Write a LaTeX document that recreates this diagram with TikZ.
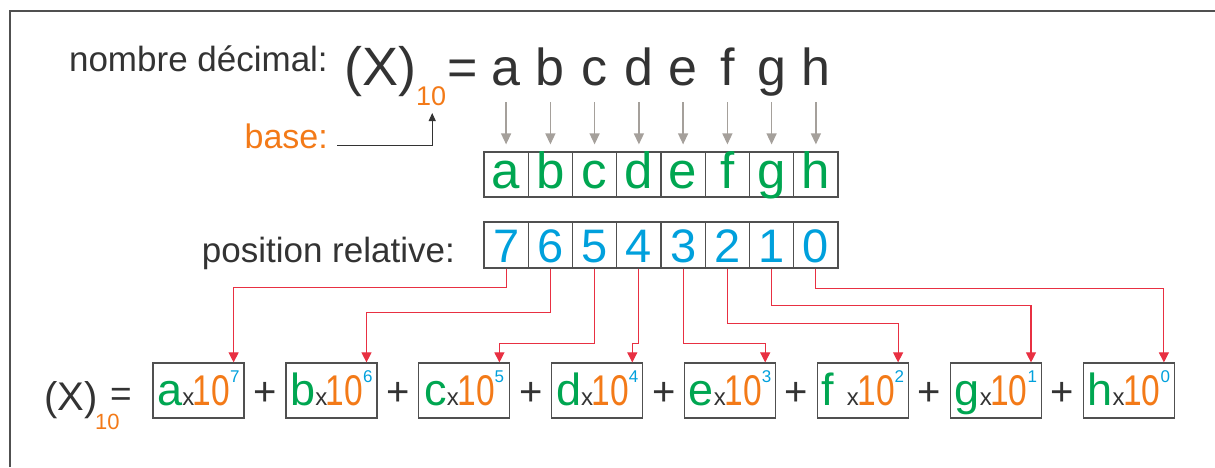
\documentclass[tikz,border=0pt]{standalone}
\usepackage{fontspec}
\setmainfont{Liberation Sans}
\usepackage{graphicx}
\usetikzlibrary{arrows.meta}
\definecolor{textgray}{RGB}{51,51,51}
\definecolor{boxgray}{RGB}{80,80,80}
\definecolor{arrowgray}{RGB}{165,160,155}
\definecolor{mygreen}{RGB}{0,166,81}
\definecolor{myorange}{RGB}{243,122,24}
\definecolor{myblue}{RGB}{0,160,220}
\definecolor{myred}{RGB}{232,48,66}
\newcommand{\fsz}[1]{\fontsize{#1pt}{#1pt}\selectfont}
\newcommand{\term}[2]{{\color{mygreen}\fsz{45}#1}{\fsz{24}x}\kern-1.5pt{\color{myorange}\fsz{43}\scalebox{0.78}[1]{10}}\raisebox{23pt}{\color{myblue}\fsz{17}#2}}
\tikzset{
  txt/.style={inner sep=0pt, text=textgray},
  lcell/.style={draw=boxgray, line width=1.2pt, inner sep=0pt, minimum width=44.25pt,
    text height=36pt, text depth=9pt, text=mygreen, font=\fsz{51}, anchor=base},
  pcell/.style={draw=boxgray, line width=1.2pt, inner sep=0pt, minimum width=44.25pt,
    text height=40pt, text depth=6pt, text=myblue, font=\fsz{47}, anchor=base},
  termbox/.style={draw=boxgray, line width=1.2pt, inner sep=0pt, minimum width=91pt,
    text height=42pt, text depth=13pt, anchor=base, text=textgray},
  plus/.style={txt, anchor=base, font=\fsz{40}},
  grayarrow/.style={draw=arrowgray, line width=1.3pt, -{Triangle[length=11pt,width=10pt]}},
  redarrow/.style={draw=myred, line width=1.1pt, -{Triangle[length=10pt,width=10pt]}},
  basearrow/.style={draw=textgray, line width=1pt, -{Triangle[length=8pt,width=7pt]}}
}
\begin{document}
\begin{tikzpicture}[x=1pt, y=-1pt]
\useasboundingbox (0,0) rectangle (1215,467);
%% frame
  \draw[draw=boxgray, line width=1.5pt] (10,467) -- (10,11) -- (1215,11);
%% first line
  \node[txt, anchor=base east, font=\fsz{35}] (nombre) at (328,71) {nombre décimal:};
  \node[txt, anchor=base west, font=\fsz{54}] (xtop) at (344,85) {(X)};
  \node[txt, anchor=base west, font=\fsz{27}, text=myorange] (basetop) at (416,105) {10};
  \node[txt, anchor=base west, font=\fsz{52}] (eqtop) at (447,85) {=};
  \node[txt, anchor=base, font=\fsz{52}] (ta) at (506.1,85) {a};
  \node[txt, anchor=base, font=\fsz{52}] (tb) at (550.4,85) {b};
  \node[txt, anchor=base, font=\fsz{52}] (tc) at (594.6,85) {c};
  \node[txt, anchor=base, font=\fsz{52}] (td) at (638.9,85) {d};
  \node[txt, anchor=base, font=\fsz{52}] (te) at (683.1,85) {e};
  \node[txt, anchor=base, font=\fsz{52}] (tf) at (727.4,85) {f};
  \node[txt, anchor=base, font=\fsz{52}] (tg) at (771.6,85) {g};
  \node[txt, anchor=base, font=\fsz{52}] (th) at (815.9,85) {h};
%% base
  \node[txt, anchor=base east, font=\fsz{34}, text=myorange] (base) at (328,148) {base:};
  \draw[basearrow] ([xshift=9pt]base.mid east) -| ([xshift=1pt,yshift=-8pt]basetop.base);
%% digits
  \node[lcell] (ca) at (506.1,188) {a};
  \node[lcell] (cb) at (550.4,188) {b};
  \node[lcell] (cc) at (594.6,188) {c};
  \node[lcell] (cd) at (638.9,188) {d};
  \node[lcell] (ce) at (683.1,188) {e};
  \node[lcell] (cf) at (727.4,188) {f};
  \node[lcell] (cg) at (771.6,188) {g};
  \node[lcell] (ch) at (815.9,188) {h};
  \draw[grayarrow] ([yshift=-17pt]ta.base) -- ([yshift=7pt]ca.north);
  \draw[grayarrow] ([yshift=-17pt]tb.base) -- ([yshift=7pt]cb.north);
  \draw[grayarrow] ([yshift=-17pt]tc.base) -- ([yshift=7pt]cc.north);
  \draw[grayarrow] ([yshift=-17pt]td.base) -- ([yshift=7pt]cd.north);
  \draw[grayarrow] ([yshift=-17pt]te.base) -- ([yshift=7pt]ce.north);
  \draw[grayarrow] ([yshift=-17pt]tf.base) -- ([yshift=7pt]cf.north);
  \draw[grayarrow] ([yshift=-17pt]tg.base) -- ([yshift=7pt]cg.north);
  \draw[grayarrow] ([yshift=-17pt]th.base) -- ([yshift=7pt]ch.north);
%% positions
  \node[txt, anchor=base east, font=\fsz{35}] (posrel) at (455,262) {position relative:};
  \node[pcell] (p7) at (506.1,262) {7};
  \node[pcell] (p6) at (550.4,262) {6};
  \node[pcell] (p5) at (594.6,262) {5};
  \node[pcell] (p4) at (638.9,262) {4};
  \node[pcell] (p3) at (683.1,262) {3};
  \node[pcell] (p2) at (727.4,262) {2};
  \node[pcell] (p1) at (771.6,262) {1};
  \node[pcell] (p0) at (815.9,262) {0};
%% expansion
  \node[txt, anchor=base west, font=\fsz{40}] (xbot) at (44,410) {(X)};
  \node[txt, anchor=base west, font=\fsz{22}, text=myorange] (basebot) at (95,429) {10};
  \node[txt, anchor=base west, font=\fsz{37}] (eqbot) at (110,406) {=};
  \node[termbox] (t7) at (198.5,405) {\term{a}{7}};
  \node[plus] (s1) at (265.0,405) {+};
  \node[termbox] (t6) at (331.4,405) {\term{b}{6}};
  \node[plus] (s2) at (397.9,405) {+};
  \node[termbox] (t5) at (464.3,405) {\term{c}{5}};
  \node[plus] (s3) at (530.8,405) {+};
  \node[termbox] (t4) at (597.2,405) {\term{d}{4}};
  \node[plus] (s4) at (663.7,405) {+};
  \node[termbox] (t3) at (730.1,405) {\term{e}{3}};
  \node[plus] (s5) at (796.6,405) {+};
  \node[termbox] (t2) at (863.0,405) {\term{f\ }{2}};
  \node[plus] (s6) at (929.5,405) {+};
  \node[termbox] (t1) at (995.9,405) {\term{g}{1}};
  \node[plus] (s7) at (1062.4,405) {+};
  \node[termbox] (t0) at (1128.8,405) {\term{h}{0}};
%% links
  \draw[redarrow] (p7.south) -- ++(0,19) -| ([xshift=-11pt]t7.north east);
  \draw[redarrow] (p6.south) -- ++(0,44) -| ([xshift=-11pt]t6.north east);
  \draw[redarrow] (p5.south) -- ++(0,75) -| ([xshift=-11pt]t5.north east);
  \draw[redarrow] (p4.south) -- ++(0,75) -| ([xshift=-11pt]t4.north east);
  \draw[redarrow] (p3.south) -- ++(0,75) -| ([xshift=-11pt]t3.north east);
  \draw[redarrow] (p2.south) -- ++(0,55) -| ([xshift=-11pt]t2.north east);
  \draw[redarrow] (p1.south) -- ++(0,37) -| ([xshift=-11pt]t1.north east);
  \draw[redarrow] (p0.south) -- ++(0,20) -| ([xshift=-11pt]t0.north east);
\end{tikzpicture}
\end{document}
